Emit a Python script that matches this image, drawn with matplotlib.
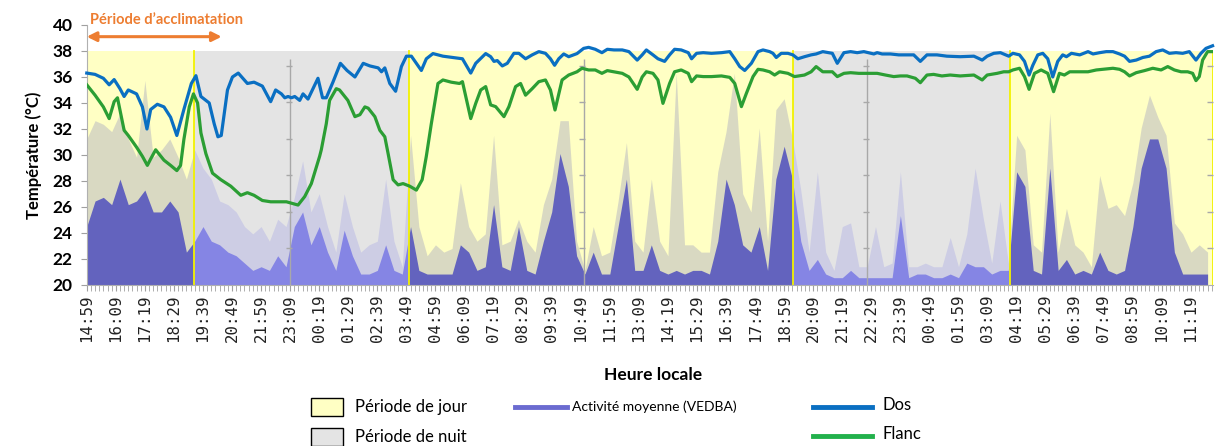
import matplotlib
matplotlib.use("Agg")
import matplotlib.pyplot as plt
import numpy as np
from matplotlib.patches import Rectangle
from matplotlib.lines import Line2D

# temps en minutes depuis 14:59 (debut de l'enregistrement)
heures = ["14:59", "16:09", "17:19", "18:29", "19:39", "20:49", "21:59", "23:09",
          "00:19", "01:29", "02:39", "03:49", "04:59", "06:09", "07:19", "08:29",
          "09:39", "10:49", "11:59", "13:09", "14:19", "15:29", "16:39", "17:49",
          "18:59", "20:09", "21:19", "22:29", "23:39", "00:49", "01:59", "03:09",
          "04:19", "05:29", "06:39", "07:49", "08:59", "10:09", "11:19"]

# periodes jour / nuit (debut, fin, type)
periodes = [(0, 259, "jour"), (259, 776, "nuit"), (776, 1702, "jour"),
            (1702, 2224, "nuit"), (2224, 2712, "jour")]

# temperature dos (°C)
t_dos = [0, 20, 40, 54, 66, 80, 90, 100, 120, 134, 145, 154, 170, 186, 202, 217, 234, 252,
         263, 275, 295, 307, 316, 324, 339, 351, 365, 387, 403, 423, 443, 455, 469, 477,
         485, 493, 501, 513, 521, 533, 557, 568, 577, 593, 611, 627, 646, 666, 682, 702,
         710, 718, 730, 744, 758, 770, 782, 806, 818, 834, 858, 882, 905, 925, 937, 961,
         973, 981, 989, 1001, 1013, 1029, 1041, 1057, 1073, 1089, 1105, 1117, 1127, 1137,
         1149, 1161, 1181, 1197, 1209, 1225, 1241, 1254, 1270, 1290, 1306, 1326, 1338,
         1348, 1364, 1376, 1392, 1404, 1416, 1432, 1449, 1457, 1469, 1485, 1505, 1529,
         1549, 1561, 1573, 1585, 1601, 1617, 1629, 1645, 1653, 1661, 1673, 1689, 1701,
         1713, 1729, 1745, 1757, 1773, 1796, 1808, 1824, 1840, 1856, 1872, 1896, 1904,
         1916, 1936, 1956, 1976, 1992, 2008, 2024, 2048, 2072, 2104, 2137, 2157, 2169,
         2185, 2201, 2221, 2231, 2247, 2259, 2270, 2279, 2291, 2303, 2315, 2327, 2339,
         2351, 2360, 2372, 2392, 2412, 2424, 2440, 2456, 2472, 2488, 2500, 2512, 2528,
         2544, 2560, 2576, 2592, 2608, 2624, 2640, 2656, 2672, 2684, 2696, 2712]
dos = [36.3, 36.2, 35.9, 35.4, 35.8, 35.1, 34.5, 35.0, 34.7, 33.7, 32.0, 33.5, 33.9, 33.7,
       32.9, 31.5, 33.5, 35.5, 36.1, 34.5, 34.0, 32.4, 31.4, 31.5, 35.0, 36.0, 36.3, 35.5,
       35.6, 35.3, 34.1, 35.0, 34.7, 34.4, 34.5, 34.4, 34.5, 34.2, 34.7, 34.3, 35.9, 34.4,
       34.4, 35.6, 37.05, 36.5, 36.0, 37.05, 36.85, 36.7, 36.4, 36.7, 35.5, 34.9, 36.8,
       37.6, 37.6, 36.5, 37.4, 37.8, 37.6, 37.5, 37.4, 36.3, 37.05, 37.8, 37.56, 37.2,
       37.26, 36.85, 37.05, 37.82, 37.82, 37.4, 37.7, 37.95, 37.82, 37.4, 36.9, 37.4,
       37.77, 37.56, 37.8, 38.2, 38.28, 38.13, 37.87, 38.13, 38.08, 38.08, 37.95, 37.3,
       37.7, 38.08, 37.7, 37.4, 37.2, 37.7, 38.13, 38.08, 37.87, 37.4, 37.82, 37.87,
       37.82, 37.87, 37.95, 37.4, 36.8, 36.5, 37.05, 37.95, 38.08, 37.95, 37.82, 37.5,
       37.82, 37.82, 37.7, 37.4, 37.56, 37.7, 37.77, 37.95, 37.82, 37.05, 37.87, 37.95,
       37.87, 37.95, 37.77, 37.87, 37.77, 37.77, 37.7, 37.7, 37.7, 37.2, 37.7, 37.7,
       37.6, 37.56, 37.6, 37.3, 37.6, 37.82, 37.87, 37.6, 37.82, 37.7, 37.2, 36.15, 36.9,
       37.7, 37.82, 37.4, 36.0, 37.2, 37.7, 37.56, 37.82, 37.7, 37.95, 37.77, 37.87,
       37.95, 37.95, 37.77, 37.6, 37.2, 37.3, 37.5, 37.6, 37.95, 38.08, 37.82, 37.87,
       37.82, 37.95, 37.3, 37.82, 38.2, 38.4]

# temperature flanc (°C)
t_flanc = [0, 20, 40, 54, 66, 74, 90, 100, 120, 134, 146, 154, 166, 186, 202, 217, 226, 234,
           247, 257, 267, 275, 287, 303, 323, 347, 371, 387, 403, 423, 443, 481, 509, 525,
           541, 561, 565, 577, 585, 601, 609, 629, 646, 658, 670, 678, 694, 706, 718, 726,
           738, 750, 762, 778, 794, 808, 818, 830, 846, 858, 878, 898, 905, 925, 937, 949,
           961, 973, 985, 1005, 1017, 1033, 1045, 1057, 1073, 1089, 1105, 1117, 1128, 1145,
           1161, 1181, 1193, 1209, 1225, 1241, 1254, 1270, 1290, 1306, 1326, 1338, 1348,
           1364, 1376, 1388, 1404, 1416, 1432, 1449, 1457, 1469, 1485, 1505, 1529, 1549,
           1561, 1577, 1589, 1605, 1617, 1629, 1645, 1657, 1669, 1689, 1705, 1729, 1745,
           1757, 1773, 1796, 1808, 1824, 1840, 1860, 1880, 1904, 1924, 1944, 1960, 1976,
           1996, 2008, 2024, 2040, 2060, 2080, 2104, 2137, 2157, 2169, 2193, 2209, 2221,
           2231, 2247, 2259, 2270, 2283, 2299, 2315, 2329, 2343, 2355, 2368, 2392, 2412,
           2432, 2448, 2472, 2488, 2500, 2512, 2528, 2548, 2568, 2588, 2604, 2620, 2636,
           2652, 2664, 2672, 2680, 2688, 2700, 2712]
flanc = [35.4, 34.6, 33.7, 32.8, 34.1, 34.4, 31.9, 31.5, 30.6, 29.9, 29.2, 29.7, 30.4, 29.6,
         29.2, 28.8, 29.2, 31.2, 33.7, 34.7, 34.0, 31.7, 30.1, 28.6, 28.1, 27.6, 26.9, 27.1,
         26.9, 26.5, 26.4, 26.4, 26.15, 26.8, 27.8, 29.9, 30.4, 32.4, 34.2, 35.1, 35.0,
         34.2, 32.95, 33.1, 33.7, 33.6, 32.95, 31.9, 31.4, 30.1, 28.1, 27.7, 27.8, 27.6,
         27.3, 28.1, 29.9, 32.4, 35.5, 35.77, 35.6, 35.5, 35.64, 32.8, 33.97, 35.0, 35.26,
         33.85, 33.72, 32.95, 33.72, 35.26, 35.5, 34.6, 35.1, 35.64, 35.77, 35.0, 33.46,
         35.77, 36.15, 36.4, 36.67, 36.54, 36.54, 36.28, 36.49, 36.4, 36.28, 36.0, 35.05,
         36.0, 36.4, 36.28, 35.77, 33.97, 35.5, 36.4, 36.54, 36.28, 35.64, 36.08, 36.03,
         36.03, 36.08, 35.97, 35.5, 33.72, 34.74, 36.03, 36.59, 36.54, 36.4, 36.15, 36.4,
         36.28, 36.03, 36.15, 36.4, 36.8, 36.4, 36.4, 36.03, 36.28, 36.33, 36.28, 36.28,
         36.28, 36.15, 36.03, 36.08, 36.08, 35.9, 35.56, 36.15, 36.2, 36.08, 36.15, 36.08,
         36.15, 35.77, 36.15, 36.28, 36.4, 36.4, 36.54, 36.67, 36.03, 35.05, 36.28, 36.54,
         36.28, 34.87, 36.28, 36.15, 36.4, 36.4, 36.4, 36.54, 36.59, 36.67, 36.59, 36.4,
         36.08, 36.33, 36.49, 36.67, 36.54, 36.8, 36.54, 36.4, 36.4, 36.28, 35.72, 36.03,
         37.3, 37.95, 37.95]

# activite (VEDBA, g) par pas de 20 min : niveau moyen et pics
t_act = np.arange(0, 2701, 20)
vedba_moy = [0.16, 0.23, 0.24, 0.22, 0.29, 0.22, 0.23, 0.26, 0.20, 0.20,
             0.23, 0.20, 0.09, 0.12, 0.16, 0.12, 0.11, 0.09, 0.08, 0.06,
             0.04, 0.05, 0.04, 0.08, 0.05, 0.16, 0.20, 0.11, 0.16, 0.09,
             0.04, 0.15, 0.08, 0.03, 0.03, 0.04, 0.11, 0.04, 0.03, 0.16,
             0.04, 0.03, 0.03, 0.03, 0.03, 0.11, 0.09, 0.04, 0.05, 0.22,
             0.05, 0.04, 0.16, 0.04, 0.03, 0.12, 0.20, 0.36, 0.27, 0.08,
             0.03, 0.09, 0.03, 0.03, 0.16, 0.29, 0.04, 0.04, 0.11, 0.04,
             0.03, 0.04, 0.03, 0.04, 0.04, 0.03, 0.12, 0.29, 0.22, 0.11,
             0.09, 0.16, 0.04, 0.29, 0.38, 0.29, 0.12, 0.04, 0.07, 0.03,
             0.02, 0.02, 0.04, 0.02, 0.02, 0.02, 0.02, 0.02, 0.19, 0.02,
             0.03, 0.03, 0.02, 0.02, 0.03, 0.02, 0.06, 0.05, 0.05, 0.03,
             0.04, 0.04, 0.31, 0.27, 0.04, 0.03, 0.32, 0.04, 0.07, 0.03,
             0.04, 0.03, 0.09, 0.04, 0.03, 0.04, 0.16, 0.32, 0.40, 0.40,
             0.32, 0.09, 0.03, 0.03, 0.03, 0.03]
vedba_max = [0.40, 0.45, 0.44, 0.42, 0.47, 0.40, 0.35, 0.56, 0.35, 0.37,
             0.40, 0.35, 0.29, 0.37, 0.32, 0.29, 0.23, 0.22, 0.20, 0.16,
             0.14, 0.16, 0.12, 0.18, 0.16, 0.24, 0.34, 0.20, 0.25, 0.16,
             0.09, 0.25, 0.16, 0.09, 0.11, 0.12, 0.29, 0.12, 0.05, 0.41,
             0.16, 0.08, 0.11, 0.09, 0.10, 0.28, 0.16, 0.12, 0.14, 0.41,
             0.11, 0.12, 0.18, 0.12, 0.09, 0.22, 0.29, 0.45, 0.45, 0.12,
             0.04, 0.16, 0.08, 0.09, 0.23, 0.39, 0.12, 0.09, 0.29, 0.12,
             0.08, 0.58, 0.11, 0.11, 0.09, 0.09, 0.31, 0.42, 0.58, 0.25,
             0.20, 0.43, 0.12, 0.48, 0.51, 0.40, 0.26, 0.09, 0.31, 0.09,
             0.04, 0.16, 0.17, 0.05, 0.05, 0.16, 0.05, 0.06, 0.31, 0.05,
             0.05, 0.06, 0.05, 0.05, 0.13, 0.05, 0.14, 0.32, 0.18, 0.06,
             0.23, 0.06, 0.41, 0.37, 0.11, 0.09, 0.47, 0.09, 0.21, 0.11,
             0.09, 0.05, 0.30, 0.21, 0.22, 0.19, 0.28, 0.43, 0.52, 0.46,
             0.41, 0.17, 0.14, 0.09, 0.11, 0.09]

# axes "fantomes" (echelle d'activite) dessinees dans le graphique
t_axes_act = [490, 1197, 1880]

c_jour, c_nuit = "#ffffc4", "#e4e4e4"
c_act = {"jour": "#6363be", "nuit": "#8585e4"}
c_dos, c_flanc = "#0a6fc2", "#2b9e34"
orange = "#ed7d31"

fig = plt.figure(figsize=(12.15, 4.46), dpi=100)
ax2 = fig.add_axes([0.0714, 0.361, 0.9266, 0.583])
ax = ax2.twinx()
ax.set_zorder(ax2.get_zorder() + 1)
ax.patch.set_visible(False)

ax2.set_ylim(0, 0.712)
ax2.set_xlim(0, 2712)

# fond jour / nuit (jusqu'a 38 °C -> 0.9 de la hauteur), bords jaunes verticaux
for a, b, kind in periodes:
    ax2.axvspan(a, b, ymin=0, ymax=0.9, facecolor=c_jour if kind == "jour" else c_nuit,
                edgecolor="none", zorder=0)
    if kind == "jour":
        for tb in (a, b):
            ax2.axvline(tb, ymin=0, ymax=0.9, color="#f2f200", lw=1.3, zorder=2.5)

# activite : enveloppe des pics (transparente) puis niveau moyen
for a, b, kind in periodes:
    clip = Rectangle((a, 0), b - a, 1, transform=ax2.transData)
    pics = ax2.fill_between(t_act, 0, vedba_max, color=c_act[kind], lw=0, alpha=0.24, zorder=1)
    pics.set_clip_path(clip)
    fond = ax2.fill_between(t_act, 0, vedba_moy, color=c_act[kind], lw=0, zorder=2)
    fond.set_clip_path(clip)

for tx in t_axes_act:
    ax2.vlines(tx, 0, 0.62, colors="#a8a8a8", lw=1, zorder=3)
    ax2.plot([tx - 3] * 6, np.arange(0.1, 0.61, 0.1), ls="none", marker="_",
             ms=4, color="#a8a8a8", zorder=3)
ax2.plot([2706] * 6, np.arange(0.1, 0.61, 0.1), ls="none", marker="_",
         ms=4, color="#a8a8a8", zorder=3)

ax2.set_yticks([])
for s in ax2.spines.values():
    s.set_visible(False)

# temperatures
ax.plot(t_dos, dos, color=c_dos, lw=2.3, solid_joinstyle="round", zorder=5, clip_on=False)
ax.plot(t_flanc, flanc, color=c_flanc, lw=2.3, solid_joinstyle="round", zorder=4)

ax.set_ylim(20, 40)
ax.yaxis.tick_left()
ax.yaxis.set_label_position("left")
ax.set_yticks(np.arange(20, 41, 2))
ax.set_yticklabels([str(v) for v in range(20, 41, 2)], fontsize=12.5,
                   fontweight="bold", family="Lato")
ax.tick_params(axis="y", length=4, color="#a0a0a0", pad=6)
ax.set_ylabel("Température (°C)", fontsize=12, fontweight="bold", family="Lato", labelpad=8)

ax2.set_xticks(np.arange(0, 2711, 70))
ax2.set_xticks(np.arange(0, 2711, 10), minor=True)
ax2.set_xticklabels(heures, rotation=90, fontsize=11.3, family="DejaVu Sans Mono",
                    color="#222222")
ax2.tick_params(axis="x", which="both", length=4, color="#a0a0a0", pad=3)

for side in ["top", "right", "bottom"]:
    ax.spines[side].set_visible(False)
ax.spines["left"].set_color("#b0b0b0")
ax2.spines["bottom"].set_visible(True)
ax2.spines["bottom"].set_color("#b0b0b0")

# periode d'acclimatation
ax.annotate("", xy=(0, 39.1), xytext=(325, 39.1),
            arrowprops=dict(arrowstyle="<|-|>", color=orange, lw=2.2,
                            mutation_scale=14, shrinkA=0, shrinkB=0),
            annotation_clip=False)
ax.text(8, 40.35, "Période d’acclimatation", color=orange, fontsize=10.5,
        fontweight="bold", family="Lato", va="center", ha="left", clip_on=False)

# titre de l'axe x et legende, places en pixels de la figure
W, H = 1215, 446

def fx(x):
    return x / W

def fy(y):
    return 1 - y / H

fig.text(fx(653), fy(375), "Heure locale", fontsize=12.5, fontweight="bold",
         family="Lato", ha="center", va="center")

for y, col, lab in [(407, c_jour, "Période de jour"), (437, c_nuit, "Période de nuit")]:
    fig.add_artist(Rectangle((fx(311), fy(y + 9)), fx(32), 18 / H, facecolor=col,
                             edgecolor="black", lw=1, transform=fig.transFigure))
    fig.text(fx(355), fy(y), lab, fontsize=12, family="Lato", va="center")

fig.add_artist(Line2D([fx(515), fx(567)], [fy(407), fy(407)], color="#6b6bd0", lw=3.5))
fig.text(fx(572), fy(407), "Activité moyenne (VEDBA)", fontsize=10, family="Lato", va="center")
fig.add_artist(Line2D([fx(813), fx(872)], [fy(407), fy(407)], color=c_dos, lw=3.5))
fig.text(fx(882), fy(405), "Dos", fontsize=12, family="Lato", va="center")
fig.add_artist(Line2D([fx(813), fx(872)], [fy(436), fy(436)], color="#22b14c", lw=3.5))
fig.text(fx(882), fy(434), "Flanc", fontsize=12, family="Lato", va="center")

fig.savefig("out.png", dpi=100)
